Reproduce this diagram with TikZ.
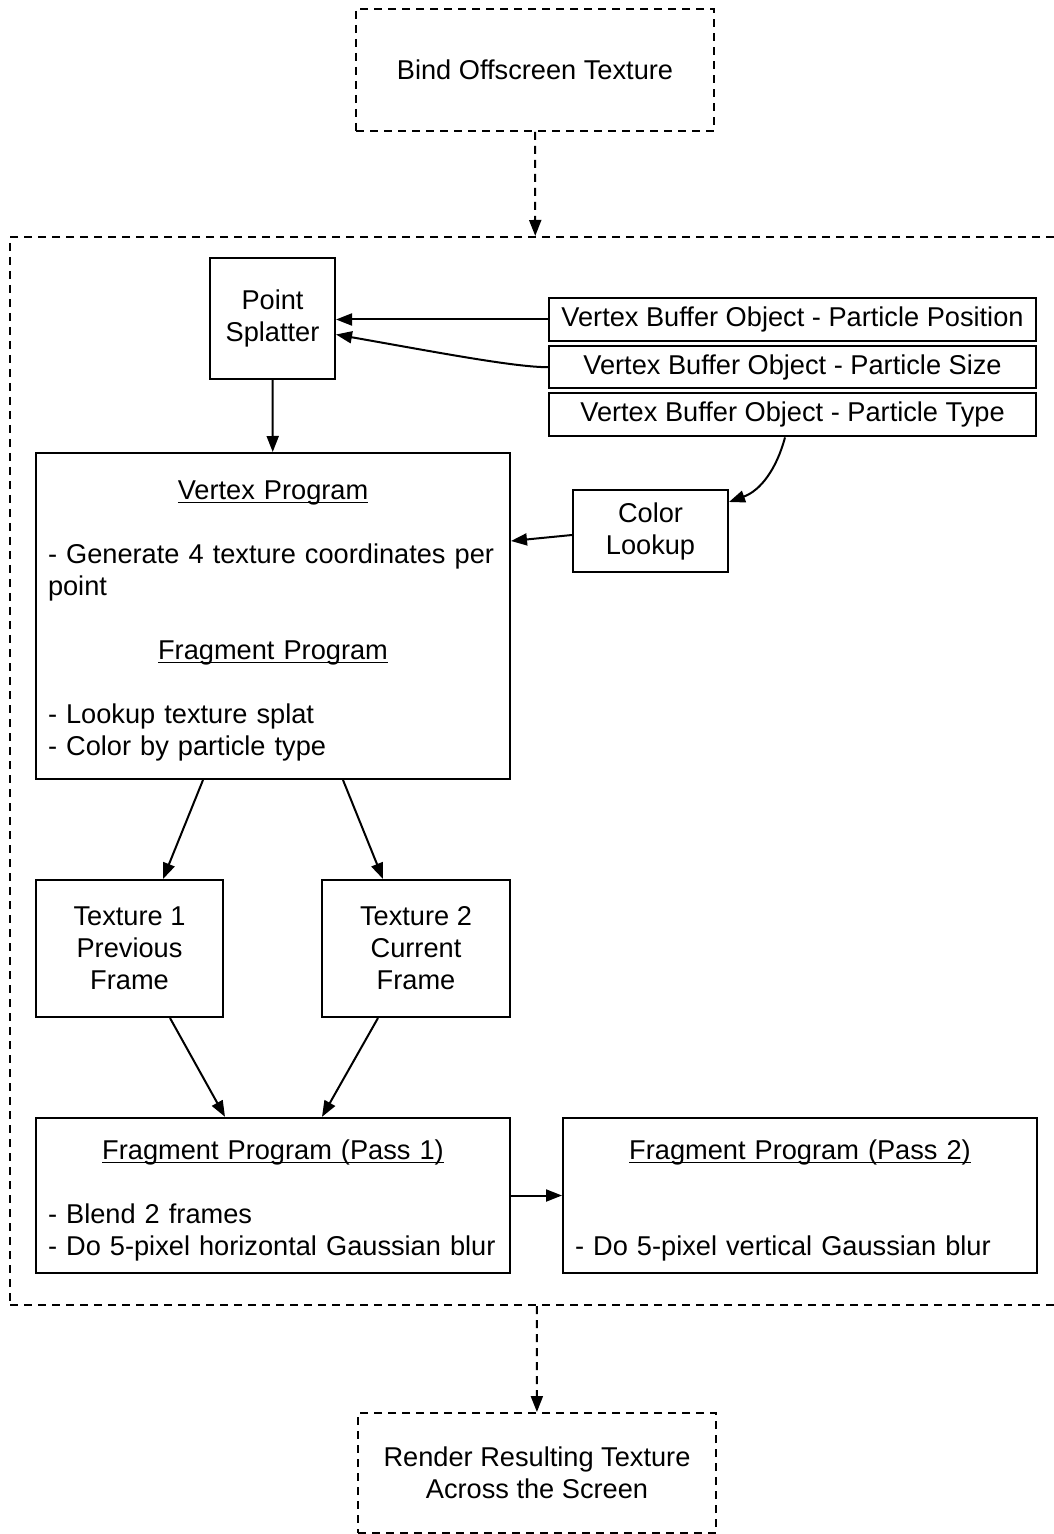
\documentclass[tikz,border=0pt]{standalone}
\usepackage{fontspec}
\setmainfont{Liberation Sans}
\usetikzlibrary{arrows.meta,positioning}
\newcommand{\headline}[2][0pt]{\makebox[\hsize]{\underline{\raisebox{0pt}[\dimexpr\height+#1\relax][0pt]{#2}}}}

\begin{document}
\begin{tikzpicture}[
  x=0.5pt, y=-0.5pt,
  font=\fontsize{13.6}{16}\selectfont,
  node distance=1.6pt and 48.5pt,
  blk/.style={draw, line width=1pt, align=center, inner sep=6pt},
  dashblk/.style={blk, dash pattern=on 4pt off 3pt},
  prog/.style={blk, text width=225pt, align=left},
  arrow/.style={-{Triangle[length=8pt,width=6pt]}, line width=1pt},
  dasharrow/.style={arrow, dash pattern=on 4pt off 3pt}
]
\useasboundingbox (0,0) rectangle (1053,1534);

\node[dashblk, minimum width=526pt, minimum height=534pt] (frame) at (536,771) {};
\node[dashblk, minimum width=179pt, minimum height=61pt] (bind) at (535,70) {Bind Offscreen Texture};
\node[dashblk, minimum width=179pt, minimum height=60pt] (render) at (537,1473) {Render Resulting Texture\\Across the Screen};

\node[blk, minimum width=62.5pt, minimum height=60.5pt] (splat) at (272.5,318.5) {Point\\Splatter};
\node[blk, minimum width=243.5pt, minimum height=21.5pt, inner sep=2pt] (vbopos) at (792.5,319.5) {Vertex Buffer Object - Particle Position};
\node[blk, minimum width=243.5pt, minimum height=21pt, inner sep=2pt, below=of vbopos] (vbosize) {Vertex Buffer Object - Particle Size};
\node[blk, minimum width=243.5pt, minimum height=21.5pt, inner sep=2pt, below=of vbosize] (vbotype) {Vertex Buffer Object - Particle Type};
\node[blk, minimum width=77.5pt, minimum height=39pt] (clookup) at (650.5,531) {Color\\Lookup};

\node[prog, minimum height=163pt] (vprog) at (273,616) {\headline[5pt]{Vertex Program}\\[16pt]
  - Generate 4 texture coordinates per\\point\\[16pt]
  \headline{Fragment Program}\\[16pt]
  - Lookup texture splat\\
  - Color by particle type};

\node[blk, minimum width=93.5pt, minimum height=68.5pt] (tex1) at (129.5,948.5) {Texture 1\\Previous\\Frame};
\node[blk, minimum width=94pt, minimum height=68.5pt, right=of tex1] (tex2) {Texture 2\\Current\\Frame};

\node[prog, minimum height=77.5pt] (pass1) at (273,1195.5) {\headline[5pt]{Fragment Program (Pass 1)}\\[16pt]
  - Blend 2 frames\\
  - Do 5-pixel horizontal Gaussian blur};
\node[prog, minimum height=77.5pt, right=25.5pt of pass1] (pass2) {\headline[5pt]{Fragment Program (Pass 2)}\\[32pt]
  - Do 5-pixel vertical Gaussian blur};

\draw[dasharrow] (bind) -- (frame);
\draw[dasharrow] (frame) -- (render);

\draw[arrow] (vbopos.west) -- (vbopos.west -| splat.east);
\draw[arrow] (vbosize.west) to[out=180, in=-10, out looseness=0.4, in looseness=1.2] ([yshift=-8pt]splat.east);
\draw[arrow] (splat) -- (vprog);
\draw[arrow] ([xshift=-3.75pt]vbotype.south) to[out=-105, in=20] ([yshift=14.5pt]clookup.east);
\draw[arrow] ([yshift=-2pt]clookup.west) -- ([yshift=37.5pt]vprog.east);

\draw[arrow] ([xshift=-35pt]vprog.south) -- ([xshift=16.75pt]tex1.north);
\draw[arrow] ([xshift=35pt]vprog.south) -- ([xshift=-16.5pt]tex2.north);
\draw[arrow] ([xshift=20.25pt]tex1.south) -- ([xshift=-24pt]pass1.north);
\draw[arrow] ([xshift=-19pt]tex2.south) -- ([xshift=24.5pt]pass1.north);
\draw[arrow] (pass1) -- (pass2);
\end{tikzpicture}
\end{document}
